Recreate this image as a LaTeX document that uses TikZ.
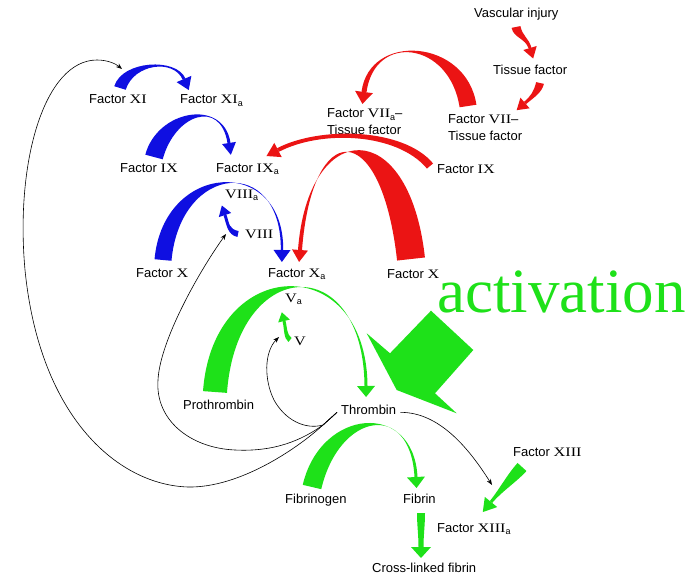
\documentclass[tikz,border=0pt]{standalone}
\usepackage{fontspec}
\setmainfont{Liberation Sans}
\newfontfamily\serifnum{Liberation Serif}
\usetikzlibrary{calc,arrows.meta}
\definecolor{cblue}{RGB}{15,15,225}
\definecolor{cred}{RGB}{235,20,20}
\definecolor{cgreen}{RGB}{30,225,25}
\newcommand{\rn}[1]{{\serifnum\scalebox{1.25}[1]{#1}}}
\newcommand{\subs}[1]{\raisebox{-0.4ex}{\fontsize{9}{9}\selectfont #1}}
% tapered arc: colour, A, C1, C2, B, half width start, half width end, head half width, head length
\newcommand{\tarc}[9]{%
 \fill[#1] ($(#2)!#6!90:(#3)$) .. controls ($(#3)!#6!-90:(#2)$) and ($(#4)!#7!90:(#5)$) .. ($(#5)!#7!-90:(#4)$)
   -- ($(#5)!#7!90:(#4)$) .. controls ($(#4)!#7!-90:(#5)$) and ($(#3)!#6!90:(#2)$) .. ($(#2)!#6!-90:(#3)$) -- cycle;
 \fill[#1] ($(#5)!#8!90:(#4)$) -- ($(#5)!-#9!(#4)$) -- ($(#5)!#8!-90:(#4)$) -- cycle;}
\tikzset{
 lab/.style={inner sep=0pt, anchor=base west, font=\fontsize{13}{16}\selectfont, text=black},
 labtwo/.style={inner sep=0pt, anchor=north west, align=left, font=\fontsize{13}{17}\selectfont, text=black},
 blk/.style={draw=black, line width=0.6pt, -{Stealth[length=6pt,width=4.5pt]}}
}
\begin{document}
\begin{tikzpicture}[x=1pt,y=-1pt]
\fill[white] (0,0) rectangle (696,575);
\useasboundingbox (0,0) rectangle (696,575);

% labels
\node[lab] (fxi) at (89,104) {Factor \rn{XI}};
\node[lab] (fxia) at (180,104) {Factor \rn{XI}\subs{a}};
\node[lab] (fix) at (120,172) {Factor \rn{IX}};
\node[lab] (fixa) at (216,172) {Factor \rn{IX}\subs{a}};
\node[lab] (vasc) at (474,18) {Vascular injury};
\node[lab] (tf) at (493,75) {Tissue factor};
\node[labtwo] (fviiatf) at (327,108.5) {Factor \rn{VII}\subs{a}–\\Tissue factor};
\node[labtwo] (fviitf) at (448,114.5) {Factor \rn{VII}–\\Tissue factor};
\node[lab] (fixr) at (437,173) {Factor \rn{IX}};
\node[lab] (fviiia) at (225,198) {\rn{VIII}\subs{a}};
\node[lab] (fviii) at (245,238) {\rn{VIII}};
\node[lab] (fx) at (136,277) {Factor \rn{X}};
\node[lab] (fxa) at (268,277) {Factor \rn{X}\subs{a}};
\node[lab] (fxr) at (387,278) {Factor \rn{X}};
\node[lab] (fva) at (285,302) {\rn{V}\subs{a}};
\node[lab] (fv) at (294,345) {\rn{V}};
\node[lab] (proth) at (183,409) {Prothrombin};
\node[lab] (thromb) at (341,414) {Thrombin};
\node[lab] (fibg) at (285,503) {Fibrinogen};
\node[lab] (fib) at (403,503) {Fibrin};
\node[lab] (xfib) at (372,572) {Cross-linked fibrin};
\node[lab] (fxiii) at (513,456) {Factor \rn{XIII}};
\node[lab] (fxiiia) at (437,532) {Factor \rn{XIII}\subs{a}};

% blue tapered arrows
\coordinate (b1a) at (120,88);  \coordinate (b1c) at (128,62);  \coordinate (b1d) at (175,58);  \coordinate (b1b) at (184,79);
\tarc{cblue}{b1a}{b1c}{b1d}{b1b}{6pt}{1.5pt}{8pt}{12pt}
\coordinate (b2a) at (154,157); \coordinate (b2c) at (166,112); \coordinate (b2d) at (222,98);  \coordinate (b2b) at (229,143);
\tarc{cblue}{b2a}{b2c}{b2d}{b2b}{9pt}{1.5pt}{7pt}{12pt}
\coordinate (b3a) at (163,260); \coordinate (b3c) at (172,162); \coordinate (b3d) at (283,155); \coordinate (b3b) at (282,250);
\tarc{cblue}{b3a}{b3c}{b3d}{b3b}{8.5pt}{1.2pt}{8.5pt}{12pt}
\coordinate (b4a) at (238,234); \coordinate (b4c) at (228,232); \coordinate (b4d) at (228,224); \coordinate (b4b) at (225,215);
\tarc{cblue}{b4a}{b4c}{b4d}{b4b}{3pt}{1.5pt}{6.5pt}{10pt}

% red tapered arrows
\coordinate (r1a) at (516,27);  \coordinate (r1c) at (518,37);  \coordinate (r1d) at (527,38);  \coordinate (r1b) at (530,48);
\tarc{cred}{r1a}{r1c}{r1d}{r1b}{4.5pt}{1.5pt}{7pt}{11pt}
\coordinate (r2a) at (540,83);  \coordinate (r2c) at (538,92);  \coordinate (r2d) at (532,97);  \coordinate (r2b) at (525,103);
\tarc{cred}{r2a}{r2c}{r2d}{r2b}{4pt}{1.5pt}{7pt}{11pt}
\coordinate (r3a) at (468,106); \coordinate (r3c) at (458,40);  \coordinate (r3d) at (372,32);  \coordinate (r3b) at (364,92);
\tarc{cred}{r3a}{r3c}{r3d}{r3b}{8.5pt}{2.5pt}{9pt}{12pt}
\coordinate (r4a) at (430,166); \coordinate (r4c) at (400,130); \coordinate (r4d) at (320,128); \coordinate (r4b) at (278,150);
\tarc{cred}{r4a}{r4c}{r4d}{r4b}{4pt}{2pt}{8pt}{13pt}
\coordinate (r5a) at (411,259); \coordinate (r5c) at (395,115); \coordinate (r5d) at (310,118); \coordinate (r5b) at (300,250);
\tarc{cred}{r5a}{r5c}{r5d}{r5b}{14pt}{2pt}{8pt}{12pt}

% green tapered arrows
\coordinate (g1a) at (215,392); \coordinate (g1c) at (225,255); \coordinate (g1d) at (365,250); \coordinate (g1b) at (366,386);
\tarc{cgreen}{g1a}{g1c}{g1d}{g1b}{12pt}{1.5pt}{9pt}{11pt}
\coordinate (g2a) at (290,340); \coordinate (g2c) at (285,336); \coordinate (g2d) at (286,329); \coordinate (g2b) at (284,321);
\tarc{cgreen}{g2a}{g2c}{g2d}{g2b}{2.5pt}{1.5pt}{6pt}{9pt}
\coordinate (g3a) at (312,487); \coordinate (g3c) at (330,410); \coordinate (g3d) at (412,400); \coordinate (g3b) at (416,477);
\tarc{cgreen}{g3a}{g3c}{g3d}{g3b}{9.5pt}{1.5pt}{9pt}{11pt}
\coordinate (g4a) at (421,513); \coordinate (g4c) at (421,525); \coordinate (g4d) at (421,535); \coordinate (g4b) at (421,547);
\tarc{cgreen}{g4a}{g4c}{g4d}{g4b}{4pt}{2.5pt}{10pt}{11pt}
\coordinate (g5a) at (522,467); \coordinate (g5c) at (512,478); \coordinate (g5d) at (500,491); \coordinate (g5b) at (491,502);
\tarc{cgreen}{g5a}{g5c}{g5d}{g5b}{6pt}{1.5pt}{8pt}{13pt}

% black feedback arrows from thrombin
\coordinate (junc) at (323,425);
\coordinate (endxi) at (122,69);
\coordinate (endviii) at (226,234);
\coordinate (endv) at (279,337);
\coordinate (endxiii) at (492,485);
\draw[blk] ($(thromb.west)+(-4,3)$) -- (junc) .. controls (298,448) and (240,488) .. (188,487)
  .. controls (120,485) and (40,420) .. (25,270) .. controls (15,160) and (45,60) .. (97,60)
  .. controls (108,60) and (116,64) .. (endxi);
\draw[blk] ($(thromb.west)+(-4,3)$) -- (junc) .. controls (302,440) and (275,452) .. (235,450)
  .. controls (190,448) and (155,420) .. (158,380) .. controls (160,340) and (200,270) .. (endviii);
\draw[blk] ($(thromb.west)+(-4,3)$) -- (junc) .. controls (305,430) and (285,420) .. (274,400)
  .. controls (264,380) and (264,352) .. (endv);
\draw[blk] ($(thromb.east)+(4,3)$) .. controls (440,412) and (470,450) .. (endxiii);

% big green block arrow and label
\fill[cgreen] (366.7,333.3) -- (390,353.3) -- (431,310.7) -- (473.3,350) -- (435,393.3) -- (456.7,413.3) -- (396.7,390) -- cycle;
\node[font=\fontsize{63}{63}\selectfont\serifnum, text=cgreen, inner sep=0pt, anchor=base west] (act) at (437,312) {activation};
\end{tikzpicture}
\end{document}
